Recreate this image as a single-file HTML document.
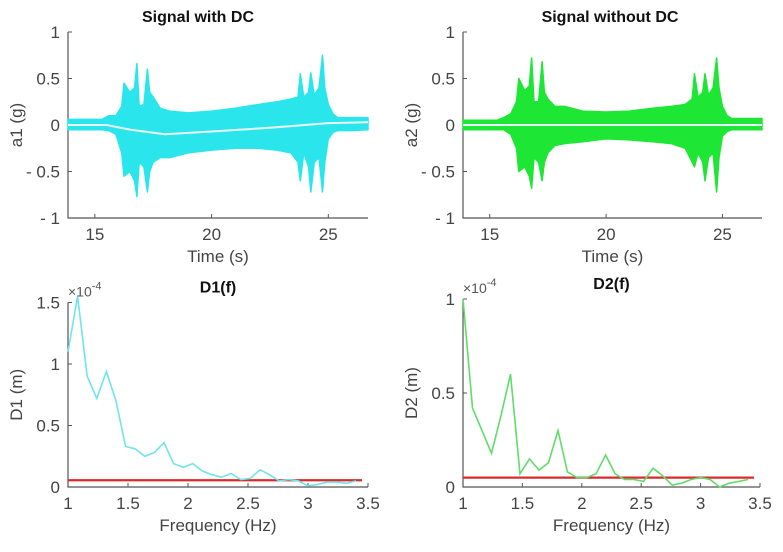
<!DOCTYPE html>
<html><head><meta charset="utf-8"><style>
html,body{margin:0;padding:0;background:#fff;}
svg text{font-family:"Liberation Sans",Arial,sans-serif;}
</style></head><body>
<svg id="fig" width="783" height="547" viewBox="0 0 783 547" xmlns="http://www.w3.org/2000/svg"></svg>
<script>
// ---- data ----
const sigTimes  = [13.85,15.3,15.6,15.9,16.15,16.25,16.5,16.7,16.8,16.9,17.1,17.25,17.35,17.5,17.8,18.2,19,20,21,22,22.8,23.4,23.7,23.8,23.95,24.15,24.25,24.4,24.6,24.75,24.85,25.0,25.2,25.4,26.0,26.7];
const upperDC   = [0.06,0.06,0.1,0.1,0.2,0.45,0.35,0.4,0.66,0.2,0.22,0.6,0.35,0.3,0.18,0.15,0.13,0.15,0.18,0.22,0.25,0.28,0.3,0.55,0.3,0.35,0.56,0.32,0.4,0.75,0.4,0.22,0.12,0.08,0.08,0.08];
const lowerDC   = [-0.05,-0.05,-0.06,-0.1,-0.3,-0.55,-0.5,-0.6,-0.77,-0.4,-0.45,-0.72,-0.5,-0.4,-0.35,-0.35,-0.3,-0.27,-0.25,-0.25,-0.27,-0.3,-0.4,-0.6,-0.3,-0.45,-0.72,-0.4,-0.35,-0.72,-0.4,-0.15,-0.08,-0.06,-0.06,-0.05];
const dcTimes   = [13.85,15.5,16.5,18,20,22.5,25,26.7];
const dcLine    = [0,0,-0.05,-0.1,-0.07,-0.03,0.02,0.03];
const upperNoDC = [0.05,0.05,0.08,0.12,0.25,0.5,0.37,0.42,0.72,0.25,0.25,0.68,0.35,0.28,0.2,0.2,0.15,0.14,0.15,0.18,0.2,0.22,0.28,0.55,0.3,0.35,0.55,0.32,0.4,0.72,0.4,0.2,0.1,0.07,0.07,0.07];
const lowerNoDC = [-0.05,-0.05,-0.05,-0.1,-0.25,-0.5,-0.45,-0.55,-0.68,-0.35,-0.4,-0.6,-0.4,-0.3,-0.22,-0.2,-0.18,-0.15,-0.16,-0.18,-0.2,-0.25,-0.4,-0.45,-0.3,-0.4,-0.6,-0.35,-0.3,-0.72,-0.35,-0.12,-0.07,-0.05,-0.05,-0.05];
const noDcLine  = [0,0,0,0,0,0,0,0];
const freqs = [1.0,1.08,1.16,1.24,1.32,1.4,1.48,1.56,1.64,1.72,1.8,1.88,1.96,2.04,2.12,2.2,2.28,2.36,2.44,2.52,2.6,2.68,2.76,2.84,2.92,3.0,3.08,3.16,3.24,3.32,3.4];
const d1 = [1.1,1.55,0.9,0.72,0.94,0.7,0.33,0.31,0.25,0.28,0.36,0.19,0.16,0.19,0.13,0.1,0.08,0.11,0.06,0.07,0.14,0.1,0.05,0.06,0.05,0.01,0.02,0.04,0.04,0.03,0.05];
const d2 = [1.0,0.42,0.3,0.18,0.38,0.6,0.07,0.15,0.09,0.13,0.3,0.08,0.05,0.05,0.07,0.17,0.07,0.04,0.04,0.03,0.1,0.06,0.01,0.02,0.04,0.05,0.04,0.0,0.02,0.03,0.04];
const d1Thresh = 0.055, d2Thresh = 0.05;
const timeTicks = [15,20,25];
const ampTicks = [1,0.5,0,-0.5,-1];
const ampTickLabels = ["1","0.5","0","- 0.5","- 1"];
const freqTicks = [1,1.5,2,2.5,3,3.5];
const d1Ticks = [0,0.5,1,1.5];
const d2Ticks = [0,0.5,1];

const svg = document.getElementById('fig');
const NS = 'http://www.w3.org/2000/svg';
function mk(tag, attrs, parent){const e=document.createElementNS(NS,tag);for(const k in attrs)e.setAttribute(k,attrs[k]);(parent||svg).appendChild(e);return e;}
function txt(x,y,s,size,anchor,parent,extra){const t=mk('text',Object.assign({x:x,y:y,'font-size':size,'text-anchor':anchor||'middle',fill:'#333'},extra||{}),parent);t.textContent=s;return t;}

function panel(o){
  const g=mk('g',{});
  
  
  const sx=v=>o.x0+(v-o.xmin)/(o.xmax-o.xmin)*(o.x1-o.x0);
  const sy=v=>o.y0-(v-o.ymin)/(o.ymax-o.ymin)*(o.y0-o.y1);
  const ax=mk('path',{d:`M${o.x0},${o.y1} V${o.y0} H${o.x1}`,stroke:'#555',fill:'none','stroke-width':1.2},g);
  
  
  o.xt.forEach(v=>{mk('line',{x1:sx(v),x2:sx(v),y1:o.y0,y2:o.y0-4,stroke:'#555'},g);
    const t=txt(sx(v),o.y0+22,String(v),17,'middle',g,{fill:'#444'});
    
    });
  o.yt.forEach((v,i)=>{mk('line',{x1:o.x0,x2:o.x0+4,y1:sy(v),y2:sy(v),stroke:'#555'},g);
    const t=txt(o.x0-8,sy(v)+6,o.ytl?o.ytl[i]:String(v),17,'end',g,{fill:'#444'});
    
    });
  const tt=txt(o.tx!==undefined?o.tx:(o.x0+o.x1)/2,o.y1-10,o.title,16,'middle',g,{'font-weight':'bold',fill:'#111'});
  
  
  const xl=txt((o.x0+o.x1)/2,o.y0+44,o.xlabel,17,'middle',g,{fill:'#444'});
  
  
  const yx=o.x0-46, yy=(o.y0+o.y1)/2;
  const yl=txt(yx,yy,o.ylabel,17,'middle',g,{fill:'#444',transform:`rotate(-90 ${yx} ${yy})`});
  
  
  if(o.exp){const e=txt(o.x0,o.y1-6,'×10',14,'start',g,{fill:'#555'});
    const sp=mk('tspan',{dy:-7,'font-size':11},e);sp.textContent='-4';
    
    }
  return {g,sx,sy};
}

function signalPanel(x0,x1,tx,title,ylabel,up,lo,dc,color,name){
  const p=panel({name,x0,x1,tx,y0:218,y1:32,xmin:13.85,xmax:26.7,ymin:-1,ymax:1,xt:timeTicks,yt:ampTicks,ytl:ampTickLabels,title,xlabel:'Time (s)',ylabel});
  let d='M'+sigTimes.map((t,i)=>`${p.sx(t).toFixed(1)},${p.sy(up[i]).toFixed(1)}`).join(' L');
  for(let i=sigTimes.length-1;i>=0;i--) d+=` L${p.sx(sigTimes[i]).toFixed(1)},${p.sy(lo[i]).toFixed(1)}`;
  const env=mk('path',{d:d+'Z',fill:color,stroke:color,'stroke-width':1.5,'stroke-linejoin':'round'},p.g);
  
  
  const l=mk('polyline',{points:dcTimes.map((t,i)=>`${p.sx(t)},${p.sy(dc[i])}`).join(' '),fill:'none',stroke:'#e8fbf8','stroke-width':2},p.g);
  
  
}
function specPanel(x0,x1,ymax,yt,title,ylabel,vals,thr,color,name){
  const p=panel({name,x0,x1,y0:487,y1:487-ymax*(ymax>1.2?123:188),xmin:1,xmax:3.5,ymin:0,ymax,xt:freqTicks,yt,title,xlabel:'Frequency (Hz)',ylabel,exp:true});
  const r=mk('line',{x1:p.sx(1),x2:p.sx(3.45),y1:p.sy(thr),y2:p.sy(thr),stroke:'#d92b2b','stroke-width':2.2},p.g);
  
  
  const l=mk('polyline',{points:freqs.map((f,i)=>`${p.sx(f).toFixed(1)},${p.sy(vals[i]).toFixed(1)}`).join(' '),fill:'none',stroke:color,'stroke-width':1.6},p.g);
  
  
}
signalPanel(68,368,198,'Signal with DC','a1 (g)',upperDC,lowerDC,dcLine,'#2ae6ec','signal-with-dc-panel');
signalPanel(463,762,610,'Signal without DC','a2 (g)',upperNoDC,lowerNoDC,noDcLine,'#1ee634','signal-without-dc-panel');
specPanel(68,368,1.5,d1Ticks,'D1(f)','D1 (m)',d1,d1Thresh,'#6fe4ea','d1-spectrum-panel');
specPanel(463,760,1,d2Ticks,'D2(f)','D2 (m)',d2,d2Thresh,'#5fdc6a','d2-spectrum-panel');
</script>
</body></html>
